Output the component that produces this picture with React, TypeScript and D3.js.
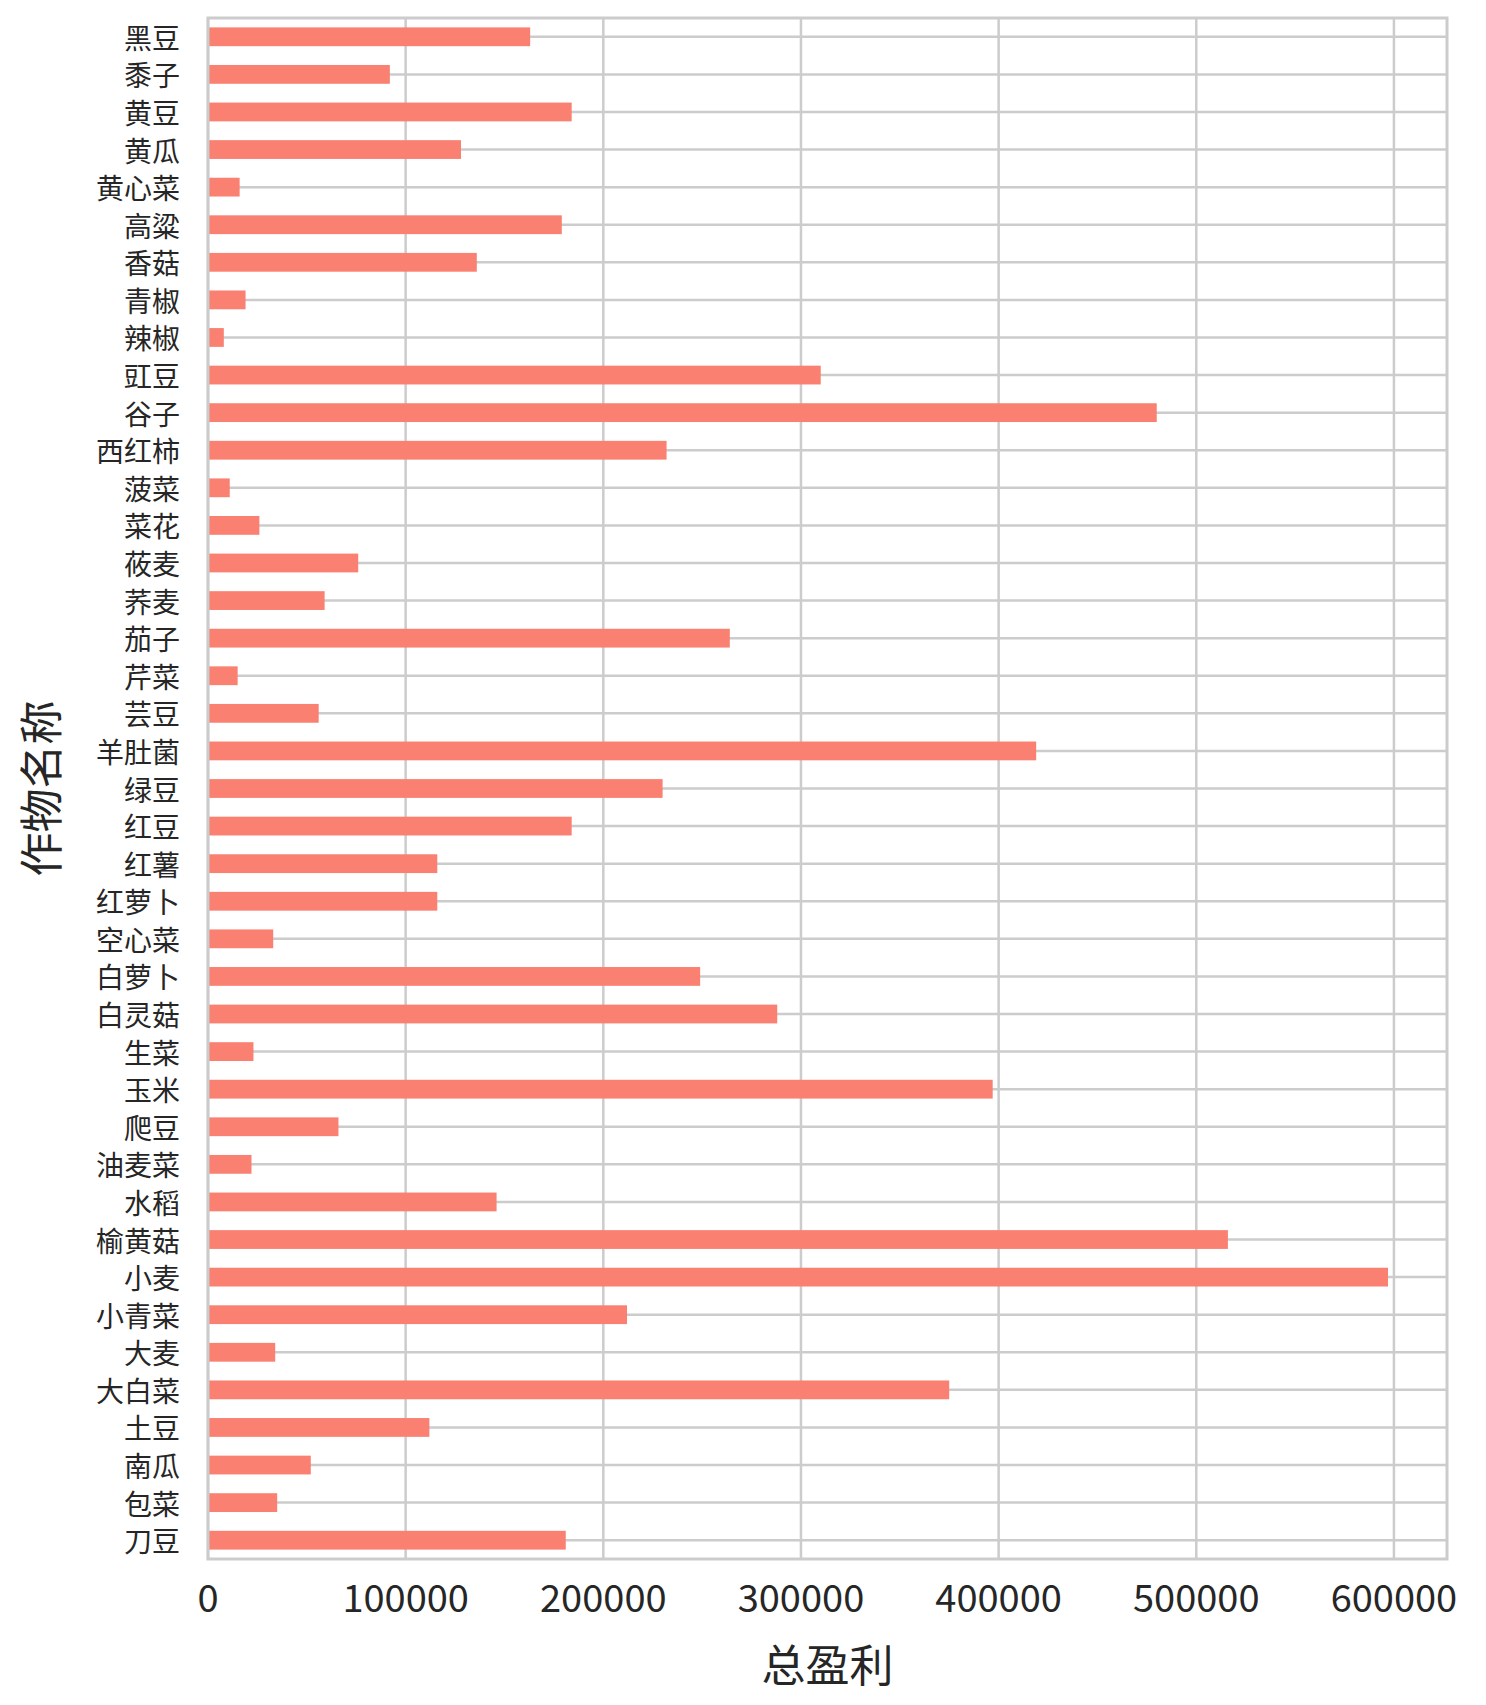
import React from 'react';
import * as d3 from 'd3';

const crops = ['黑豆','黍子','黄豆','黄瓜','黄心菜','高粱','香菇','青椒','辣椒','豇豆','谷子','西红柿','菠菜','菜花','莜麦','荞麦','茄子','芹菜','芸豆','羊肚菌','绿豆','红豆','红薯','红萝卜','空心菜','白萝卜','白灵菇','生菜','玉米','爬豆','油麦菜','水稻','榆黄菇','小麦','小青菜','大麦','大白菜','土豆','南瓜','包菜','刀豆'];
const profits = [163000,92000,184000,128000,16000,179000,136000,19000,8000,310000,480000,232000,11000,26000,76000,59000,264000,15000,56000,419000,230000,184000,116000,116000,33000,249000,288000,23000,397000,66000,22000,146000,516000,597000,212000,34000,375000,112000,52000,35000,181000];
const xTicks = [0,100000,200000,300000,400000,500000,600000];

const W = 1486, H = 1705;
const m = { left: 208, right: 1447, top: 18, bottom: 1559 };
const font = '"Noto Sans CJK SC", "Noto Sans", sans-serif';
const grid = '#cccccc';

export default function App() {
  const x = d3.scaleLinear().domain([0, 597000 * 1.05]).range([m.left, m.right]);
  const y = d3.scaleBand<string>().domain(crops).range([m.top, m.bottom]).paddingInner(0.5).paddingOuter(0.25);
  return (
    <div style={{ position: 'absolute', left: 0, top: 0 }}>
      <svg width={W} height={H} style={{ display: 'block', background: '#fff' }} fontFamily={font}>
        {xTicks.map(t => (
          <line key={t} x1={x(t)} x2={x(t)} y1={m.top} y2={m.bottom} stroke={grid} strokeWidth={2.5} />
        ))}
        {crops.map(c => (
          <line key={c} x1={m.left} x2={m.right} y1={y(c)! + y.bandwidth() / 2} y2={y(c)! + y.bandwidth() / 2} stroke={grid} strokeWidth={2.5} />
        ))}
        {crops.map((c, i) => (
          <rect key={c} x={x(0)} y={y(c)} width={x(profits[i]) - x(0)} height={y.bandwidth()} fill="#fa8072" />
        ))}
        <rect x={m.left} y={m.top} width={m.right - m.left} height={m.bottom - m.top} fill="none" stroke={grid} strokeWidth={3} />
        {crops.map(c => (
          <text key={c} x={m.left - 28} y={y(c)! + y.bandwidth() / 2} textAnchor="end" dominantBaseline="central" fontSize={28} fill="#262626">{c}</text>
        ))}
        {xTicks.map(t => (
          <text key={t} x={x(t)} y={1612} textAnchor="middle" fontSize={38} fill="#262626">{t}</text>
        ))}
        <text x={(m.left + m.right) / 2} y={1682} textAnchor="middle" fontSize={44} fill="#262626">总盈利</text>
        <text transform={`translate(58, ${(m.top + m.bottom) / 2}) rotate(-90)`} textAnchor="middle" fontSize={44} fill="#262626">作物名称</text>
      </svg>
    </div>
  );
}
